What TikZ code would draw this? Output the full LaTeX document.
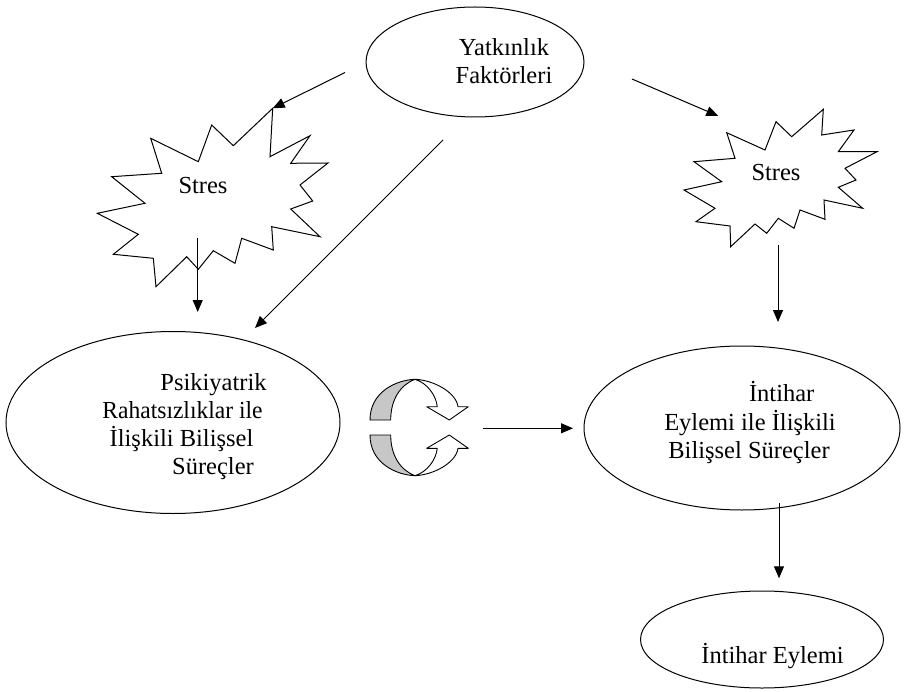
\documentclass[tikz,border=0pt]{standalone}
\usepackage{fontspec}
\setmainfont{Liberation Serif}
\usetikzlibrary{arrows.meta,shapes.geometric}

% one half of the cycling double arrow (upper half, arrowhead pointing down)
\newcommand{\halfloop}{%
  \filldraw[fill=black!22, line width=0.9pt, line join=round]
    (370,420) -- (390.7,420)
    .. controls (390.7,400) and (400,385) .. (415,379.3)
    .. controls (396,380) and (370,392) .. (370,420) -- cycle;
  \filldraw[fill=white, line width=0.9pt, line join=round]
    (415,379.3) .. controls (433,380) and (456,392) .. (458,406.7)
    -- (468.3,406.7) -- (449.3,420) -- (426.7,406.7) -- (437.3,406.7)
    .. controls (436,395) and (427,383) .. (415,379.3) -- cycle;
}

\begin{document}
\begin{tikzpicture}[x=1pt, y=-1pt,
  bubble/.style={draw, ellipse, line width=1pt, inner sep=0pt},
  lbl/.style={anchor=base, inner sep=0pt, font=\fontsize{24.5}{28}\selectfont},
  burst/.style={draw, line width=1pt, line join=miter},
  arr/.style={-{Triangle[length=12pt,width=10pt]}, line width=1pt},
]
\useasboundingbox (0,0) rectangle (909,692);

% ---------- ellipses ----------
\node[bubble, minimum width=218, minimum height=110] (yat) at (475,62) {};
\node[bubble, minimum width=334, minimum height=182] (psi) at (173,422.5) {};
\node[bubble, minimum width=316, minimum height=164] (bil) at (742,428) {};
\node[bubble, minimum width=243, minimum height=97] (eyl) at (762,639.5) {};

\node[lbl] (yat1) at (504,56) {Yatkınlık};
\node[lbl] (yat2) at (504,84) {Faktörleri};

\node[lbl] (psi1) at (213.5,390) {Psikiyatrik};
\node[lbl, xscale=0.96] (psi2) at (182.5,418.3) {Rahatsızlıklar ile};
\node[lbl] (psi3) at (181.5,446.7) {İlişkili Bilişsel};
\node[lbl] (psi4) at (213,474) {Süreçler};

\node[lbl] (bil1) at (781.7,401.7) {İntihar};
\node[lbl] (bil2) at (750,430) {Eylemi ile İlişkili};
\node[lbl] (bil3) at (749,458.3) {Bilişsel Süreçler};

\node[lbl] (eyl1) at (772.5,663.3) {İntihar Eylemi};

% ---------- stress bursts ----------
\draw[burst]
  (272.7,108.3) -- (270,156.7) -- (310,135.7) -- (290.7,163.3) -- (328,163)
  -- (300,185) -- (312.7,201) -- (290.7,209) -- (320,236.7) -- (271.7,226.7)
  -- (273.3,250) -- (241.7,238.3) -- (235,263.3) -- (213.3,250.7)
  -- (198.3,269.3) -- (186.7,256.7) -- (156,286.7) -- (153.3,258.3)
  -- (113.3,254.3) -- (138.3,234.3) -- (97.3,213.3) -- (145,203.3)
  -- (111.7,176.7) -- (161.7,173.3) -- (150.7,138.3) -- (198.3,161.7)
  -- (211.7,125) -- (233.3,145.7) -- cycle;
\coordinate (lsTop) at (272.7,108.3);
\node[lbl] (lstres) at (203,193.3) {Stres};

\draw[burst]
  (823.3,109.3) -- (821.7,135) -- (854,130) -- (838.3,151.7) -- (877,151.7)
  -- (845,168.3) -- (856,180) -- (838.3,187.3) -- (862.7,208.3) -- (824,200)
  -- (825,219.3) -- (800,210) -- (794,228.3) -- (778.3,218.3)
  -- (766.7,233.3) -- (755,224) -- (730.7,246.7) -- (730,226)
  -- (696,221.7) -- (715,208.3) -- (684,190) -- (721.7,181.7)
  -- (694,161.7) -- (735,158.3) -- (726.7,132.7) -- (765,150)
  -- (776,121.7) -- (791.7,136.7) -- cycle;
\coordinate (rsTip) at (718.3,116);
\node[lbl] (rstres) at (776,181) {Stres};

% ---------- cycling double arrow ----------
\halfloop
\begin{scope}[shift={(0,855)}, yscale=-1]
  \halfloop
\end{scope}

% ---------- connectors ----------
\coordinate (a1s) at (345,72.5);
\coordinate (a2s) at (443,140);
\coordinate (a2e) at (255,328);
\coordinate (a3s) at (632,79);
\coordinate (a4s) at (197.7,238);
\coordinate (a4e) at (197.7,312);
\coordinate (a5s) at (778,245);
\coordinate (a5e) at (778,322);
\coordinate (a6s) at (482.7,428.3);
\coordinate (a6e) at (573,428.3);
\coordinate (a7s) at (779,503.3);
\coordinate (a7e) at (779,578.3);

\draw[arr] (a1s) -- (lsTop);
\draw[arr] (a2s) -- (a2e);
\draw[arr] (a3s) -- (rsTip);
\draw[arr] (a4s) -- (a4e);
\draw[arr] (a5s) -- (a5e);
\draw[arr] (a6s) -- (a6e);
\draw[arr] (a7s) -- (a7e);
\end{tikzpicture}
\end{document}
